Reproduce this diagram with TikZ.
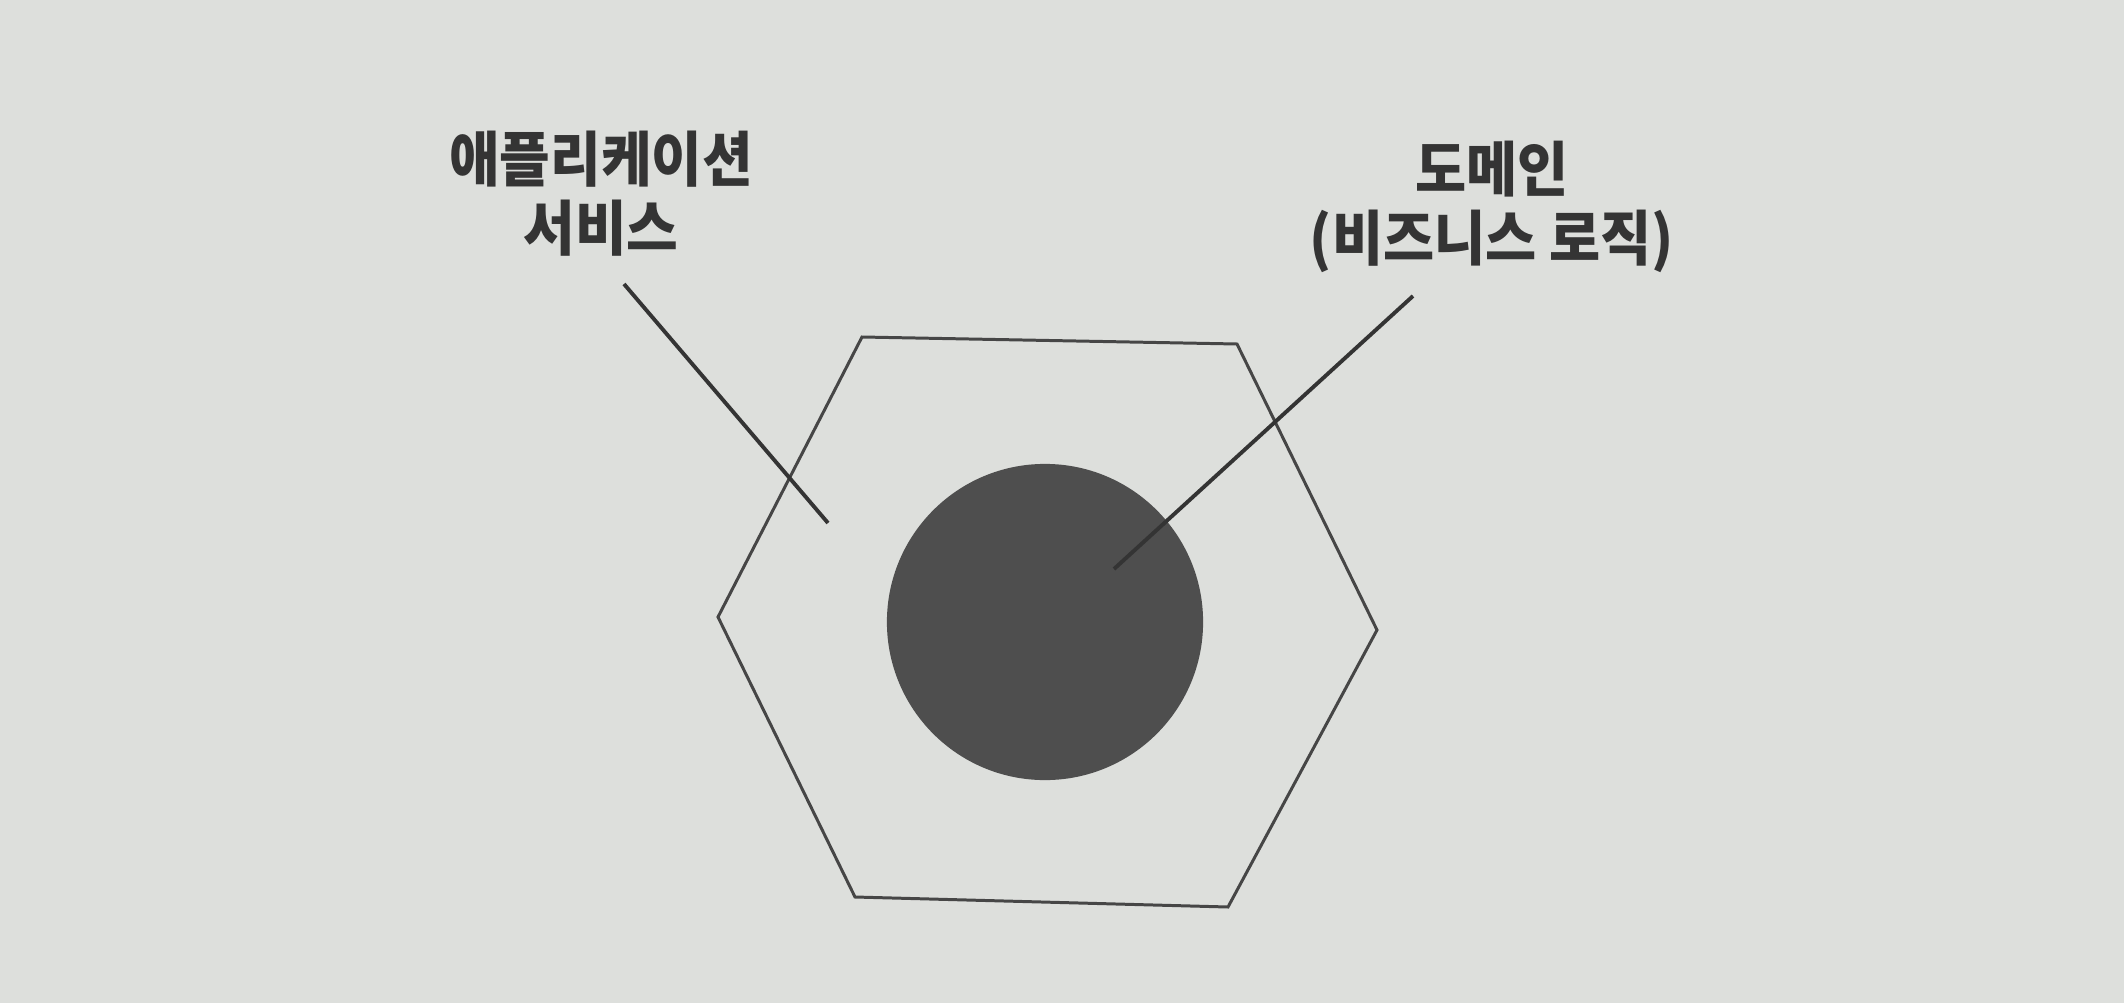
\documentclass[tikz,border=0pt]{standalone}
\usepackage{graphicx}
\usepackage{fontspec}
\newfontfamily\cjk{Noto Sans CJK KR}
\definecolor{paper}{RGB}{221,223,220}
\definecolor{ink}{RGB}{52,52,52}
\definecolor{edge}{RGB}{70,70,70}
\definecolor{disc}{RGB}{78,78,78}
\begin{document}
\begin{tikzpicture}[x=0.01cm,y=-0.01cm,
  lbl/.style={font=\cjk\bfseries\fontsize{17}{19.6}\selectfont, text=ink, align=center, inner sep=0pt},
  hexline/.style={draw=edge, line width=0.85pt, line join=miter},
  leader/.style={draw=ink, line width=1.1pt},
  core/.style={circle, fill=disc, minimum size=3.16cm, inner sep=0pt}]
\fill[paper] (0,0) rectangle (2124,1003);
\useasboundingbox (0,0) rectangle (2124,1003);
% hexagon corners
\coordinate (tl) at (862,337);
\coordinate (tr) at (1237,344);
\coordinate (r) at (1377,630);
\coordinate (br) at (1228,907);
\coordinate (bl) at (855,897);
\coordinate (l) at (718,617);
\draw[hexline] (tl) -- (tr) -- (r) -- (br) -- (bl) -- (l) -- cycle;
% domain disc
\node[core] (dom) at (1045,622) {};
% labels
\node[lbl] (app) at (601,194) {\scalebox{0.92}[1]{애플리케이션}\\\scalebox{0.94}[1]{서비스}};
\node[lbl] (domlbl) at (1492,207) {\scalebox{0.93}[1]{도메인}\\\scalebox{0.93}[1]{(비즈니스 로직)}};
% leader lines
\coordinate (a1) at (624,284);
\coordinate (a2) at (828,523);
\coordinate (d1) at (1413,296);
\coordinate (d2) at (1114,569);
\draw[leader] (a1) -- (a2);
\draw[leader] (d1) -- (d2);
\end{tikzpicture}
\end{document}
